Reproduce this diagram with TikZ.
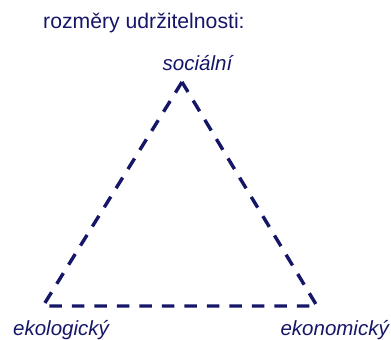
\documentclass[tikz,border=0pt]{standalone}
\usepackage{fontspec}
\setmainfont{Liberation Sans}
\definecolor{navy}{RGB}{22,22,104}
\begin{document}
\begin{tikzpicture}[x=1pt,y=1pt,
  lbl/.style={inner sep=0pt, text=navy, font=\fontsize{20.5}{24}\selectfont\itshape},
  ttl/.style={inner sep=0pt, text=navy, font=\fontsize{21.2}{25}\selectfont},
  tri/.style={draw=navy, line width=3.4pt, dash pattern=on 12.5pt off 10pt}]
\useasboundingbox (0,0) rectangle (391,340);
\coordinate (S) at (182,258);
\coordinate (L) at (43,34);
\coordinate (R) at (317,34);
\draw[tri] (S) -- (L) -- (R) -- cycle;
\node[ttl, anchor=base west] (title) at (43,311) {rozměry udržitelnosti:};
\node[lbl, anchor=base] (soc) at (197.5,269) {sociální};
\node[lbl, anchor=base west] (eko) at (13,4) {ekologický};
\node[lbl, anchor=base east] (ekon) at (389,4) {ekonomický};
\end{tikzpicture}
\end{document}
